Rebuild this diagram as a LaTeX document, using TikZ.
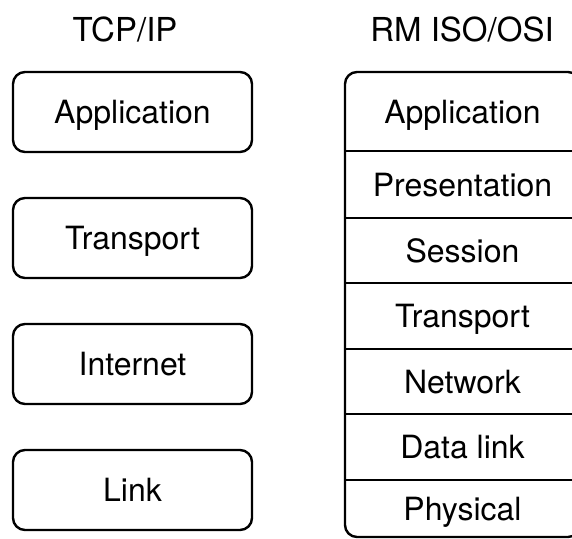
\documentclass[tikz,border=0pt]{standalone}
\usepackage{fontspec}
\setmainfont{TeX Gyre Heros}
\begin{document}
\begin{tikzpicture}[x=1pt,y=-1pt,
  labelfont/.style={font=\fontsize{32}{36}\selectfont, text height=23pt, text depth=0pt},
  layer/.style={labelfont, draw, line width=2.4pt, rounded corners=12pt,
    minimum width=239pt, minimum height=80pt, inner sep=0pt},
  osirow/.style={labelfont, inner sep=0pt, minimum width=235pt},
  title/.style={font=\fontsize{33}{38}\selectfont, text height=24pt, text depth=0pt, inner sep=0pt},
  rule/.style={line width=2.4pt}]
\useasboundingbox (0,0) rectangle (572,538);
\clip (0,0) rectangle (572,538);

% column titles
\node[title] (tcpip) at (125,29) {TCP/IP};
\node[title] (osi) at (462,29) {RM ISO/OSI};

% TCP/IP layers
\node[layer] (tapp) at (132.5,112) {Application};
\node[layer] (ttra) at (132.5,238) {Transport};
\node[layer] (tint) at (132.5,364) {Internet};
\node[layer] (tlnk) at (132.5,490) {Link};

% OSI stack: outer frame
\draw[rule, rounded corners=12pt] (345,72) rectangle (580,537);

% OSI layers
\node[osirow, minimum height=79pt] (oapp) at (462.5,111.5) {Application};
\node[osirow, minimum height=67pt] (opre) at (462.5,184.5) {Presentation};
\node[osirow, minimum height=65pt] (oses) at (462.5,250.5) {Session};
\node[osirow, minimum height=66pt] (otra) at (462.5,316) {Transport};
\node[osirow, minimum height=65pt] (onet) at (462.5,381.5) {Network};
\node[osirow, minimum height=66pt] (odat) at (462.5,447) {Data link};
\node[osirow, minimum height=57pt] (ophy) at (462.5,508.5) {Physical};

% dividers between OSI layers
\foreach \r in {oapp,opre,oses,otra,onet,odat}
  \draw[rule] (\r.south west) -- (\r.south east);
\end{tikzpicture}
\end{document}
